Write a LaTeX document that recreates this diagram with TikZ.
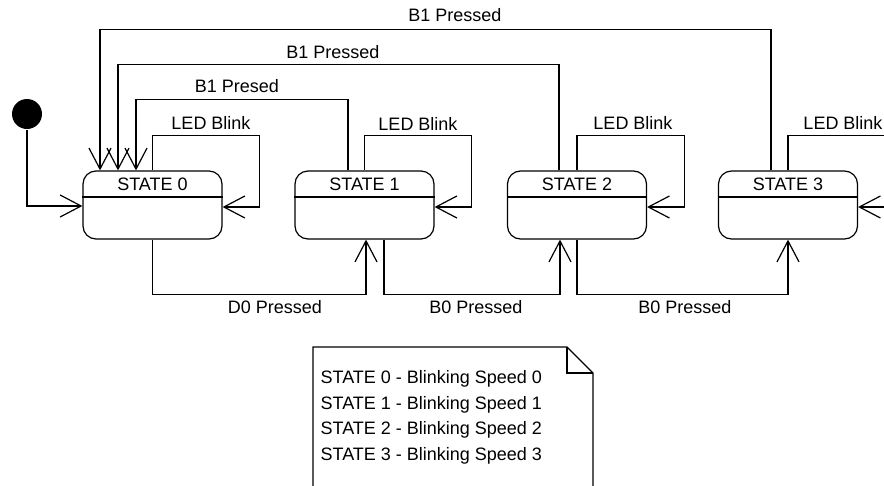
\documentclass[tikz,border=0pt]{standalone}
\usepackage{fontspec}
\setmainfont{Liberation Sans}
\usetikzlibrary{arrows.meta}
\begin{document}
\begin{tikzpicture}[x=1pt,y=-1pt,
  line width=1.2pt,
  every node/.style={font=\fontsize{18}{22}\selectfont, inner sep=0pt},
  state/.style={draw, rounded corners=13pt, minimum width=139pt, minimum height=68pt},
  trans/.style={-{Straight Barb[length=21pt,width=22pt]}},
  lbl/.style={anchor=center}
]
\useasboundingbox[fill=white] (0,0) rectangle (884,485);
\clip (0,0) rectangle (884,485);

% initial state
\node[circle, fill, minimum size=30pt] (init) at (27,114) {};

% states
\node[state] (s0) at (152.5,205) {};
\node[state] (s1) at (364.5,205) {};
\node[state] (s2) at (577,205) {};
\node[state] (s3) at (788,205) {};
\foreach \s/\t in {s0/STATE 0,s1/STATE 1,s2/STATE 2,s3/STATE 3}{
  \draw ([yshift=8pt]\s.west) -- ([yshift=8pt]\s.east);
  \node (\s t) at ([yshift=21pt]\s.center) {\t};
}

% initial transition
\draw[trans] (init) |- ([yshift=-1pt]s0.west);

% self loops
\foreach \s in {s0,s1,s2,s3}{
  \draw[trans] (\s.north) -- ++(0,-35) -| ([xshift=37pt,yshift=-2pt]\s.east) -- ([yshift=-2pt]\s.east);
}
\node[lbl] (l0) at (211,123) {LED Blink};
\node[lbl] (l1) at (418,124) {LED Blink};
\node[lbl] (l2) at (633,123) {LED Blink};
\node[lbl] (l3) at (843,123) {LED Blink};

% B1 transitions back to state 0
\draw[trans] ([xshift=-16.5pt]s1.north) -- ++(0,-71) -| ([xshift=-16.5pt]s0.north);
\draw[trans] ([xshift=-18pt]s2.north) -- ++(0,-106) -| ([xshift=-34.5pt]s0.north);
\draw[trans] ([xshift=-17pt]s3.north) -- ++(0,-141) -| ([xshift=-52.5pt]s0.north);
\node[lbl] (b1) at (237,86) {B1 Presed};
\node[lbl] (b2) at (333,52) {B1 Pressed};
\node[lbl] (b3) at (455,15) {B1 Pressed};

% forward transitions
\draw[trans] (s0.south) -- ++(0,55) -| ([xshift=1.5pt]s1.south);
\draw[trans] ([xshift=19.5pt]s1.south) -- ++(0,55) -| ([xshift=-17pt]s2.south);
\draw[trans] (s2.south) -- ++(0,55) -| (s3.south);
\node[lbl] (d0) at (275,307) {D0 Pressed};
\node[lbl] (d1) at (476,307) {B0 Pressed};
\node[lbl] (d2) at (685,307) {B0 Pressed};

% note
\draw (313,490) -- (313,347) -- (567,347) -- (593,373) -- (593,490);
\draw (567,347) -- (567,373) -- (593,373);
\node[anchor=west] (n0) at (320,379) {STATE 0 - Blinking Speed 0};
\node[anchor=west] (n1) at (320,405) {STATE 1 - Blinking Speed 1};
\node[anchor=west] (n2) at (320,430) {STATE 2 - Blinking Speed 2};
\node[anchor=west] (n3) at (320,456) {STATE 3 - Blinking Speed 3};
\end{tikzpicture}
\end{document}
